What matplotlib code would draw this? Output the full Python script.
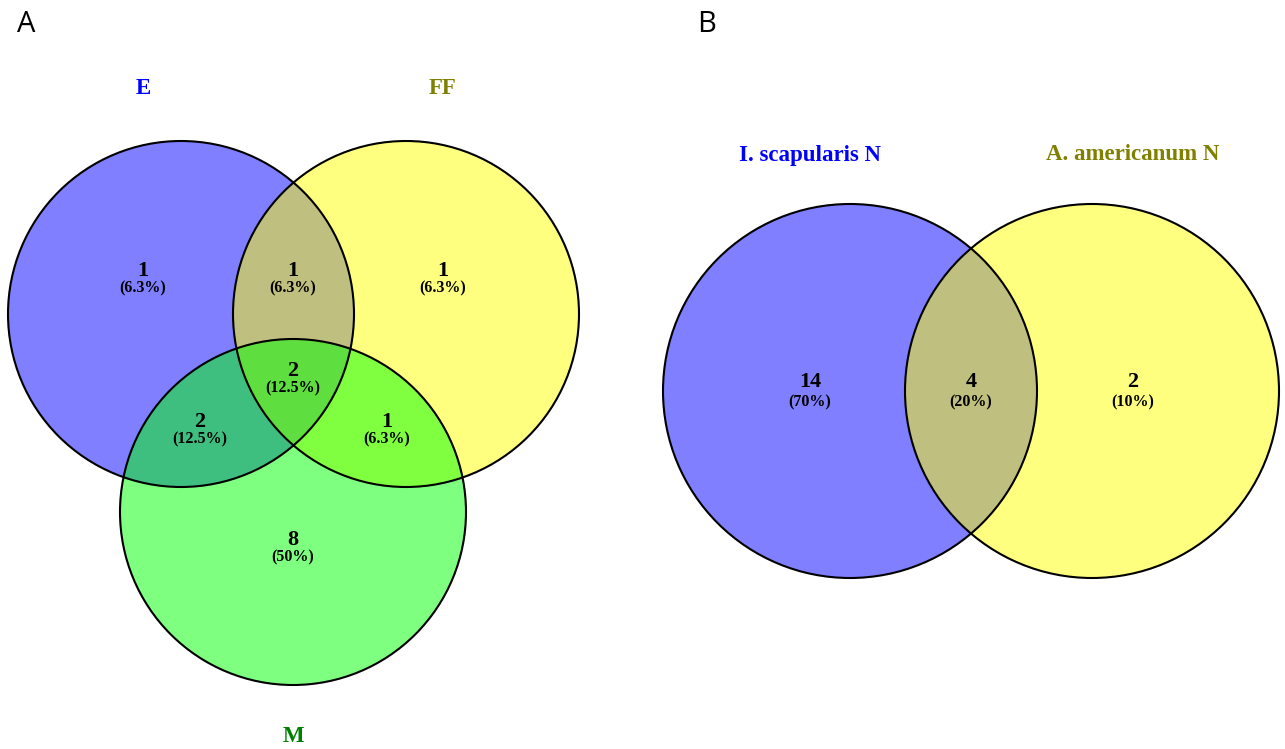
import matplotlib.pyplot as plt
from matplotlib.patches import Circle

# ==================== DATA ====================
# panel A: three-set venn (E, FF, M)
sets_a = ['E', 'FF', 'M']
regions_a = ['E', 'E&FF', 'FF', 'E&FF&M', 'E&M', 'FF&M', 'M']
counts_a = [1, 1, 1, 2, 2, 1, 8]
pcts_a = ['(6.3%)', '(6.3%)', '(6.3%)', '(12.5%)', '(12.5%)', '(6.3%)', '(50%)']

# panel B: two-set venn
sets_b = ['I. scapularis N', 'A. americanum N']
regions_b = ['I only', 'both', 'A only']
counts_b = [14, 4, 2]
pcts_b = ['(70%)', '(20%)', '(10%)']

# ==================== LAYOUT (pixel coords) ====================
W, H = 1285, 749
fill_cols = ['blue', 'yellow', 'lime']
title_cols = ['#0000FF', '#808000', '#008000']

circ_a = [(181, 314, 173), (406, 314, 173), (293, 512, 173)]
title_pos_a = [(143, 89), (443, 89), (293, 737)]
text_pos_a = [(143, 271), (293, 271), (443, 271), (293, 371),
              (200, 422), (387, 422), (293, 540)]

circ_b = [(850, 391, 187), (1092, 391, 187)]
title_pos_b = [(810, 155), (1133, 155)]
text_pos_b = [(810, 382), (971, 382), (1133, 382)]

serif = ['Liberation Serif', 'DejaVu Serif']

fig = plt.figure(figsize=(W / 100, H / 100), dpi=100)
ax = fig.add_axes([0, 0, 1, 1])
ax.set_xlim(0, W)
ax.set_ylim(H, 0)
ax.set_aspect('equal')
ax.axis('off')


def draw_venn(circles, titles, title_pos, counts, pcts, text_pos, gap):
    for (cx, cy, r), col in zip(circles, fill_cols):
        ax.add_patch(Circle((cx, cy), r, facecolor=col, alpha=0.5, edgecolor='none'))
    for (cx, cy, r) in circles:
        ax.add_patch(Circle((cx, cy), r, facecolor='none', edgecolor='black', lw=1.5))
    for t, (x, y), c in zip(titles, title_pos, title_cols):
        ax.text(x, y, t, color=c, fontsize=16.5, fontweight='bold', family=serif,
                ha='center', va='center')
    for n, p, (x, y) in zip(counts, pcts, text_pos):
        ax.text(x, y, str(n), fontsize=16, fontweight='bold', family=serif,
                ha='center', va='center')
        ax.text(x, y + gap, p, fontsize=11.5, fontweight='bold', family=serif,
                ha='center', va='center')


draw_venn(circ_a, sets_a, title_pos_a, counts_a, pcts_a, text_pos_a, 17)
draw_venn(circ_b, sets_b, title_pos_b, counts_b, pcts_b, text_pos_b, 20)

ax.text(26, 25, 'A', fontsize=21, family=['Open Sans', 'DejaVu Sans'], ha='center', va='center')
ax.text(707, 25, 'B', fontsize=21, family=['Open Sans', 'DejaVu Sans'], ha='center', va='center')

plt.savefig('out.png', dpi=100)
